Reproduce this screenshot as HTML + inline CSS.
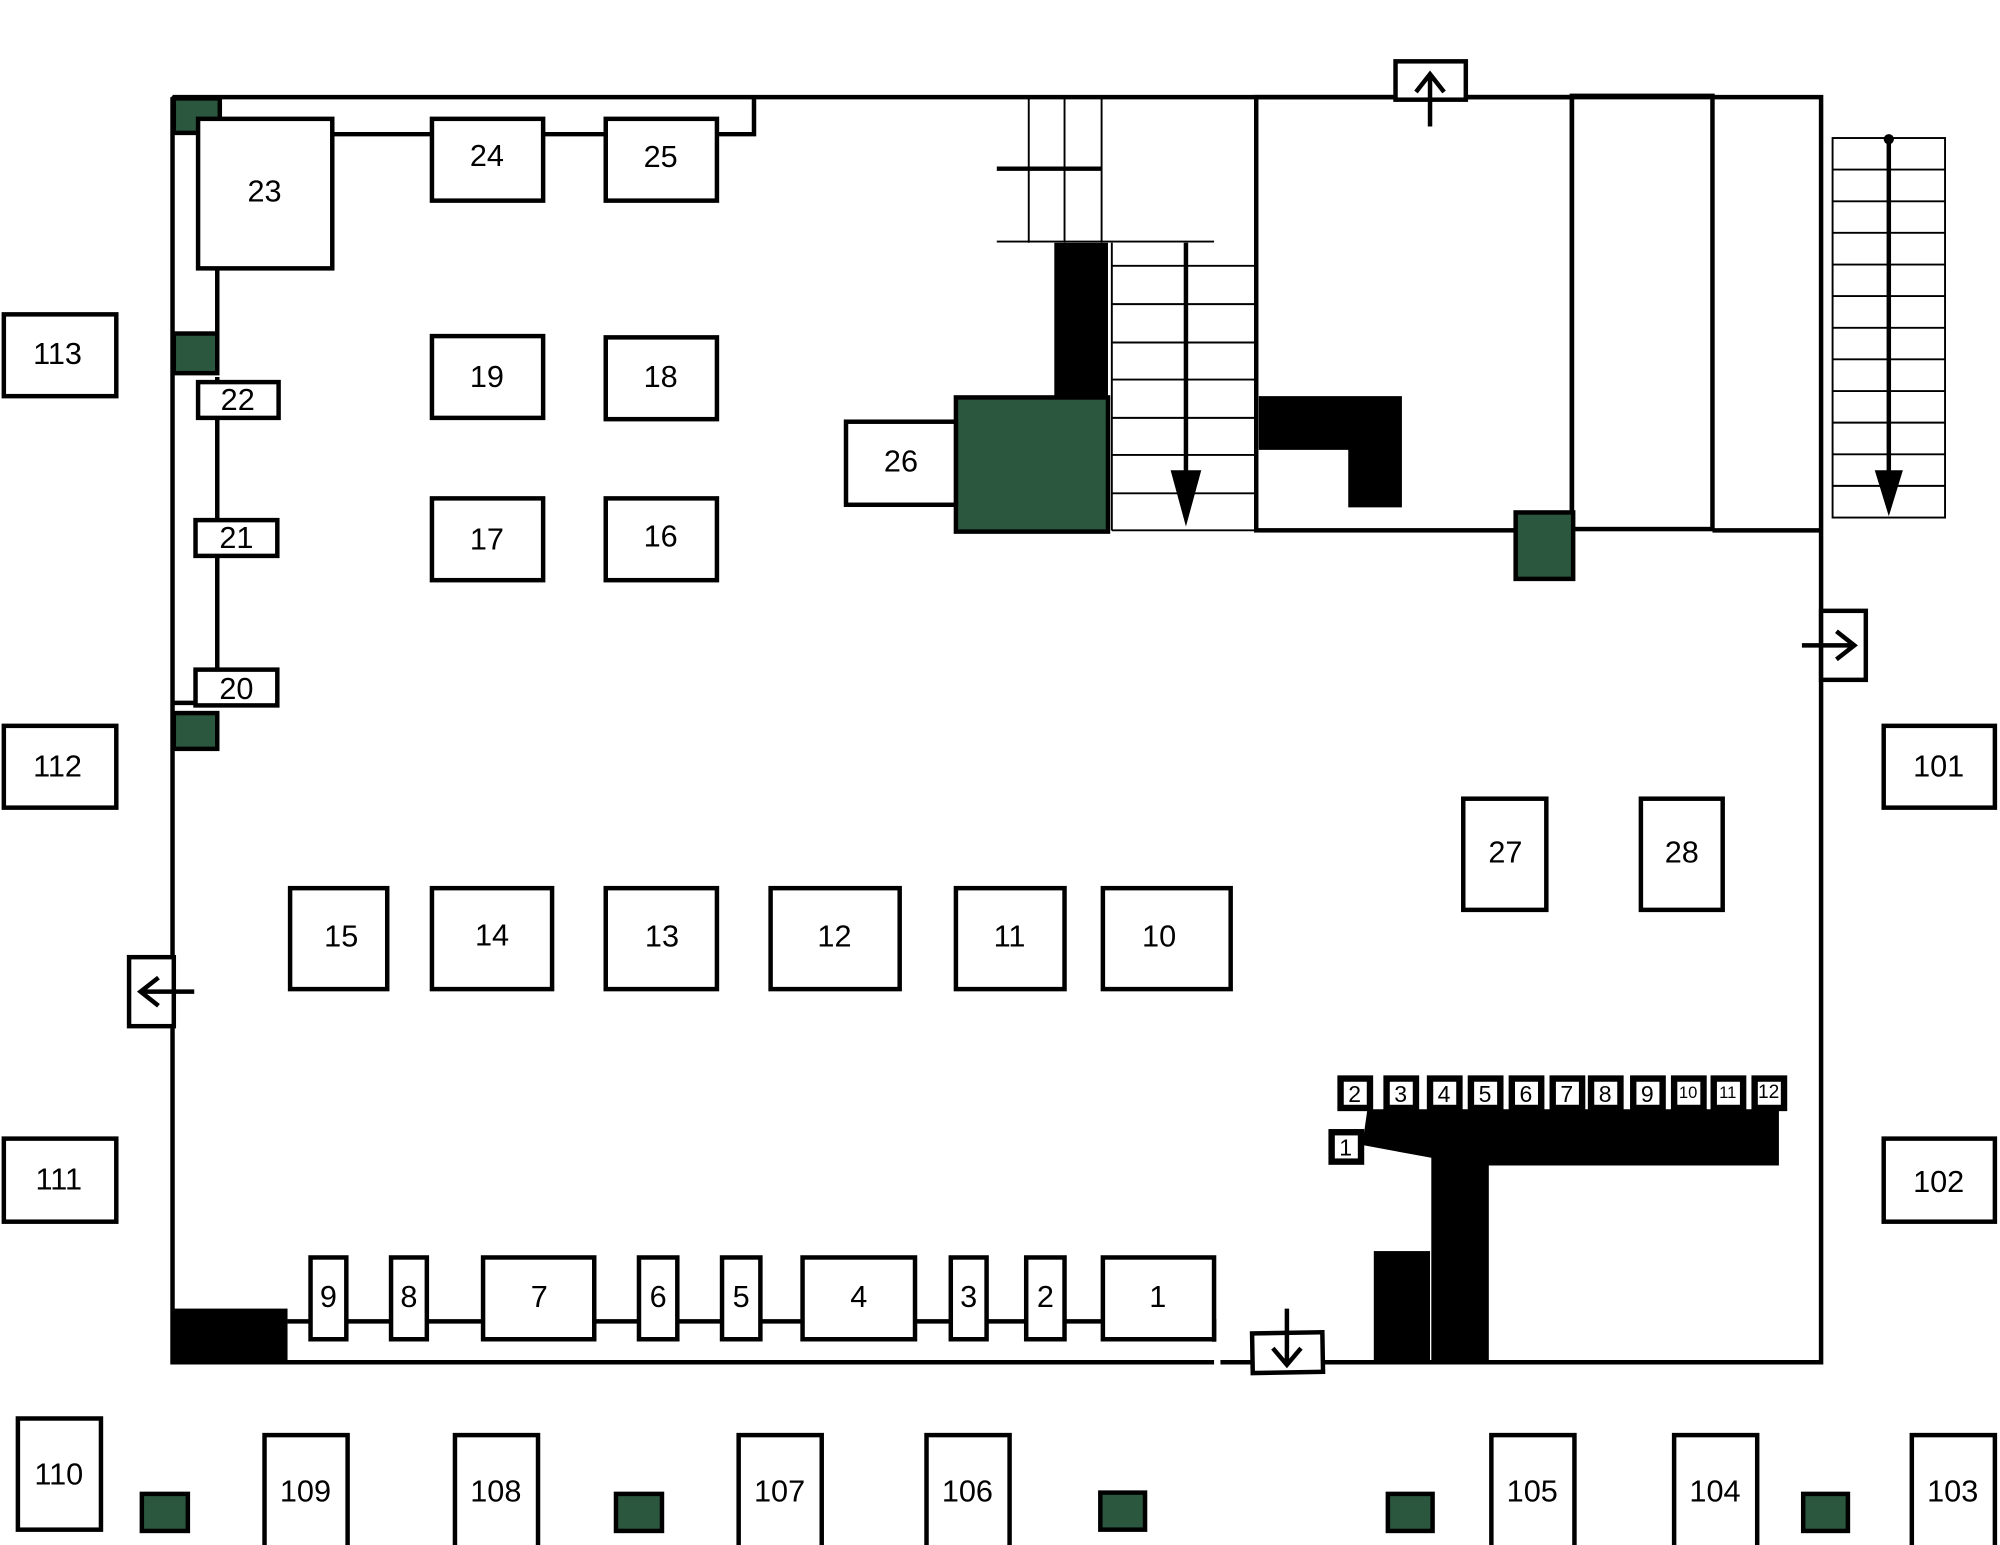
<!DOCTYPE html>
<html><head><meta charset="utf-8"><style>html,body{margin:0;padding:0;background:#fff}svg{display:block}</style></head>
<body>
<svg width="2000" height="1545" viewBox="0 0 1565 1209" preserveAspectRatio="none" xmlns="http://www.w3.org/2000/svg" font-family="Liberation Sans, sans-serif">
<g fill="none" stroke="#000" stroke-width="3.5">
<path d="M135 76 H1425 V1066 H955 M950 1066 H135 V76"/>
<path d="M590 76 V105 H260"/>
<path d="M170 105 V260 M170 295 V550 M135 550 H153"/>
<g stroke-width="1.5"><path d="M805 76 V190 M833 76 V190 M862 76 V190 M780 189 H950"/></g>
<path d="M780 132 H862"/>
<g stroke-width="1.5"><path d="M870 190 V415 M870 208 H983 M870 238 H983 M870 268 H983 M870 297 H983 M870 327 H983 M870 356 H983 M870 386 H983 M870 415 H983"/></g>
<path d="M928 190 V380"/>
<rect x="983" y="76" width="247" height="339"/>
<rect x="1230" y="75" width="110" height="339"/>
<path d="M1340 415 H1425"/>
<g stroke-width="1.5">
<rect x="1434" y="108" width="88" height="297"/>
<path d="M1434 132.7 H1522 M1434 157.5 H1522 M1434 182.2 H1522 M1434 207 H1522 M1434 231.7 H1522 M1434 256.5 H1522 M1434 281.2 H1522 M1434 306 H1522 M1434 330.7 H1522 M1434 355.5 H1522 M1434 380.2 H1522"/>
</g>
<path d="M1478 108 V375"/>
<rect x="1092" y="48" width="55" height="30" fill="#fff"/>
<path d="M1119 99 V58 M1108 72 L1119 58 L1130 72"/>
<rect x="1425" y="478" width="35" height="54" fill="#fff"/>
<path d="M1410 505 H1450 M1437 494 L1451 505 L1437 516"/>
<rect x="101" y="749" width="35" height="54" fill="#fff"/>
<path d="M152 776 H111 M124 765 L110 776 L124 787"/>
<rect x="980" y="1043" width="55" height="31" fill="#fff" transform="rotate(-1 1007 1058)"/>
<path d="M1007 1024 V1067 M996 1055 L1007 1068 L1018 1055"/>
<path d="M225 1034 H950 V1050"/>
</g>
<polygon points="916,368 940,368 928,412" fill="#000"/>
<polygon points="1467,368 1489,368 1478,404" fill="#000"/>
<circle cx="1478" cy="109" r="4" fill="#000"/>
<g fill="#000">
<rect x="825" y="190" width="42" height="122"/>
<path d="M985 310 H1097 V397 H1055 V352 H985 Z"/>
<rect x="135" y="1024" width="90" height="43"/>
<path d="M1070 868 H1392 V912 H1165 V1066 H1120 V906 L1066 896 Z"/>
<rect x="1075" y="979" width="44" height="87"/>
</g>
<g fill="#2a573d" stroke="#000" stroke-width="3.5">
<rect x="136" y="77" width="36" height="27"/>
<rect x="136" y="261" width="34" height="31"/>
<rect x="136" y="558" width="34" height="28"/>
<rect x="748" y="311" width="119" height="105"/>
<rect x="1186" y="401" width="45" height="52"/>
<rect x="111" y="1169" width="36" height="29"/>
<rect x="482" y="1169" width="36" height="29"/>
<rect x="861" y="1168" width="35" height="29"/>
<rect x="1086" y="1169" width="35" height="29"/>
<rect x="1411" y="1169" width="35" height="29"/>
</g>
<g fill="#fff" stroke="#000" stroke-width="3.5">
<rect x="155" y="93" width="105" height="117"/>
<rect x="338" y="93" width="87" height="64"/>
<rect x="474" y="93" width="87" height="64"/>
<rect x="338" y="263" width="87" height="64"/>
<rect x="474" y="264" width="87" height="64"/>
<rect x="338" y="390" width="87" height="64"/>
<rect x="474" y="390" width="87" height="64"/>
<rect x="155" y="299" width="63" height="28"/>
<rect x="153" y="407" width="64" height="28"/>
<rect x="153" y="524" width="64" height="28"/>
<rect x="662" y="330" width="86" height="65"/>
<rect x="227" y="695" width="76" height="79"/>
<rect x="338" y="695" width="94" height="79"/>
<rect x="474" y="695" width="87" height="79"/>
<rect x="603" y="695" width="101" height="79"/>
<rect x="748" y="695" width="85" height="79"/>
<rect x="863" y="695" width="100" height="79"/>
<rect x="1145" y="625" width="65" height="87"/>
<rect x="1284" y="625" width="64" height="87"/>
<rect x="243" y="984" width="28" height="64"/>
<rect x="306" y="984" width="28" height="64"/>
<rect x="378" y="984" width="87" height="64"/>
<rect x="500" y="984" width="30" height="64"/>
<rect x="565" y="984" width="30" height="64"/>
<rect x="628" y="984" width="88" height="64"/>
<rect x="744" y="984" width="28" height="64"/>
<rect x="803" y="984" width="30" height="64"/>
<rect x="863" y="984" width="87" height="64"/>
<rect x="3" y="246" width="88" height="64"/>
<rect x="3" y="568" width="88" height="64"/>
<rect x="3" y="891" width="88" height="65"/>
<rect x="1474" y="568" width="87" height="64"/>
<rect x="1474" y="891" width="87" height="65"/>
<rect x="14" y="1110" width="65" height="87"/>
<rect x="207" y="1123" width="65" height="90"/>
<rect x="356" y="1123" width="65" height="90"/>
<rect x="578" y="1123" width="65" height="90"/>
<rect x="725" y="1123" width="65" height="90"/>
<rect x="1167" y="1123" width="65" height="90"/>
<rect x="1310" y="1123" width="65" height="90"/>
<rect x="1496" y="1123" width="65" height="90"/>
</g>
<g fill="#fff" stroke="#000" stroke-width="5">
<rect x="1049" y="844" width="23" height="23"/><rect x="1085" y="844" width="23" height="23"/>
<rect x="1119" y="844" width="23" height="23"/><rect x="1151" y="844" width="23" height="23"/>
<rect x="1183" y="844" width="23" height="23"/><rect x="1215" y="844" width="23" height="23"/>
<rect x="1245" y="844" width="23" height="23"/><rect x="1278" y="844" width="23" height="23"/>
<rect x="1310" y="844" width="23" height="23"/><rect x="1341" y="844" width="23" height="23"/>
<rect x="1373" y="844" width="23" height="23"/><rect x="1042" y="886" width="23" height="23"/>
</g>
<g font-size="24" text-anchor="middle" dominant-baseline="central" fill="#000">
<text x="207" y="150">23</text><text x="381" y="122">24</text><text x="517" y="123">25</text>
<text x="381" y="295">19</text><text x="517" y="295">18</text><text x="381" y="422">17</text><text x="517" y="420">16</text>
<text x="186" y="313">22</text><text x="185" y="421">21</text><text x="185" y="539">20</text>
<text x="705" y="361">26</text>
<text x="267" y="733">15</text><text x="385" y="732">14</text><text x="518" y="733">13</text><text x="653" y="733">12</text><text x="790" y="733">11</text><text x="907" y="733">10</text>
<text x="1178" y="667">27</text><text x="1316" y="667">28</text>
<text x="257" y="1015">9</text><text x="320" y="1015">8</text><text x="422" y="1015">7</text><text x="515" y="1015">6</text><text x="580" y="1015">5</text><text x="672" y="1015">4</text><text x="758" y="1015">3</text><text x="818" y="1015">2</text><text x="906" y="1015">1</text>
<text x="45" y="277">113</text><text x="45" y="600">112</text><text x="46" y="923">111</text>
<text x="1517" y="600">101</text><text x="1517" y="925">102</text>
<text x="46" y="1154">110</text><text x="239" y="1167">109</text><text x="388" y="1167">108</text><text x="610" y="1167">107</text><text x="757" y="1167">106</text><text x="1199" y="1167">105</text><text x="1342" y="1167">104</text><text x="1528" y="1167">103</text>
</g>
<g font-size="18" text-anchor="middle" dominant-baseline="central" fill="#000">
<text x="1060" y="856">2</text><text x="1096" y="856">3</text><text x="1130" y="856">4</text><text x="1162" y="856">5</text><text x="1194" y="856">6</text><text x="1226" y="856">7</text><text x="1256" y="856">8</text><text x="1289" y="856">9</text>
<text x="1321" y="855" font-size="13">10</text><text x="1352" y="855" font-size="13">11</text><text x="1384" y="855" font-size="15">12</text><text x="1053" y="898">1</text>
</g>
</svg>
</body></html>
